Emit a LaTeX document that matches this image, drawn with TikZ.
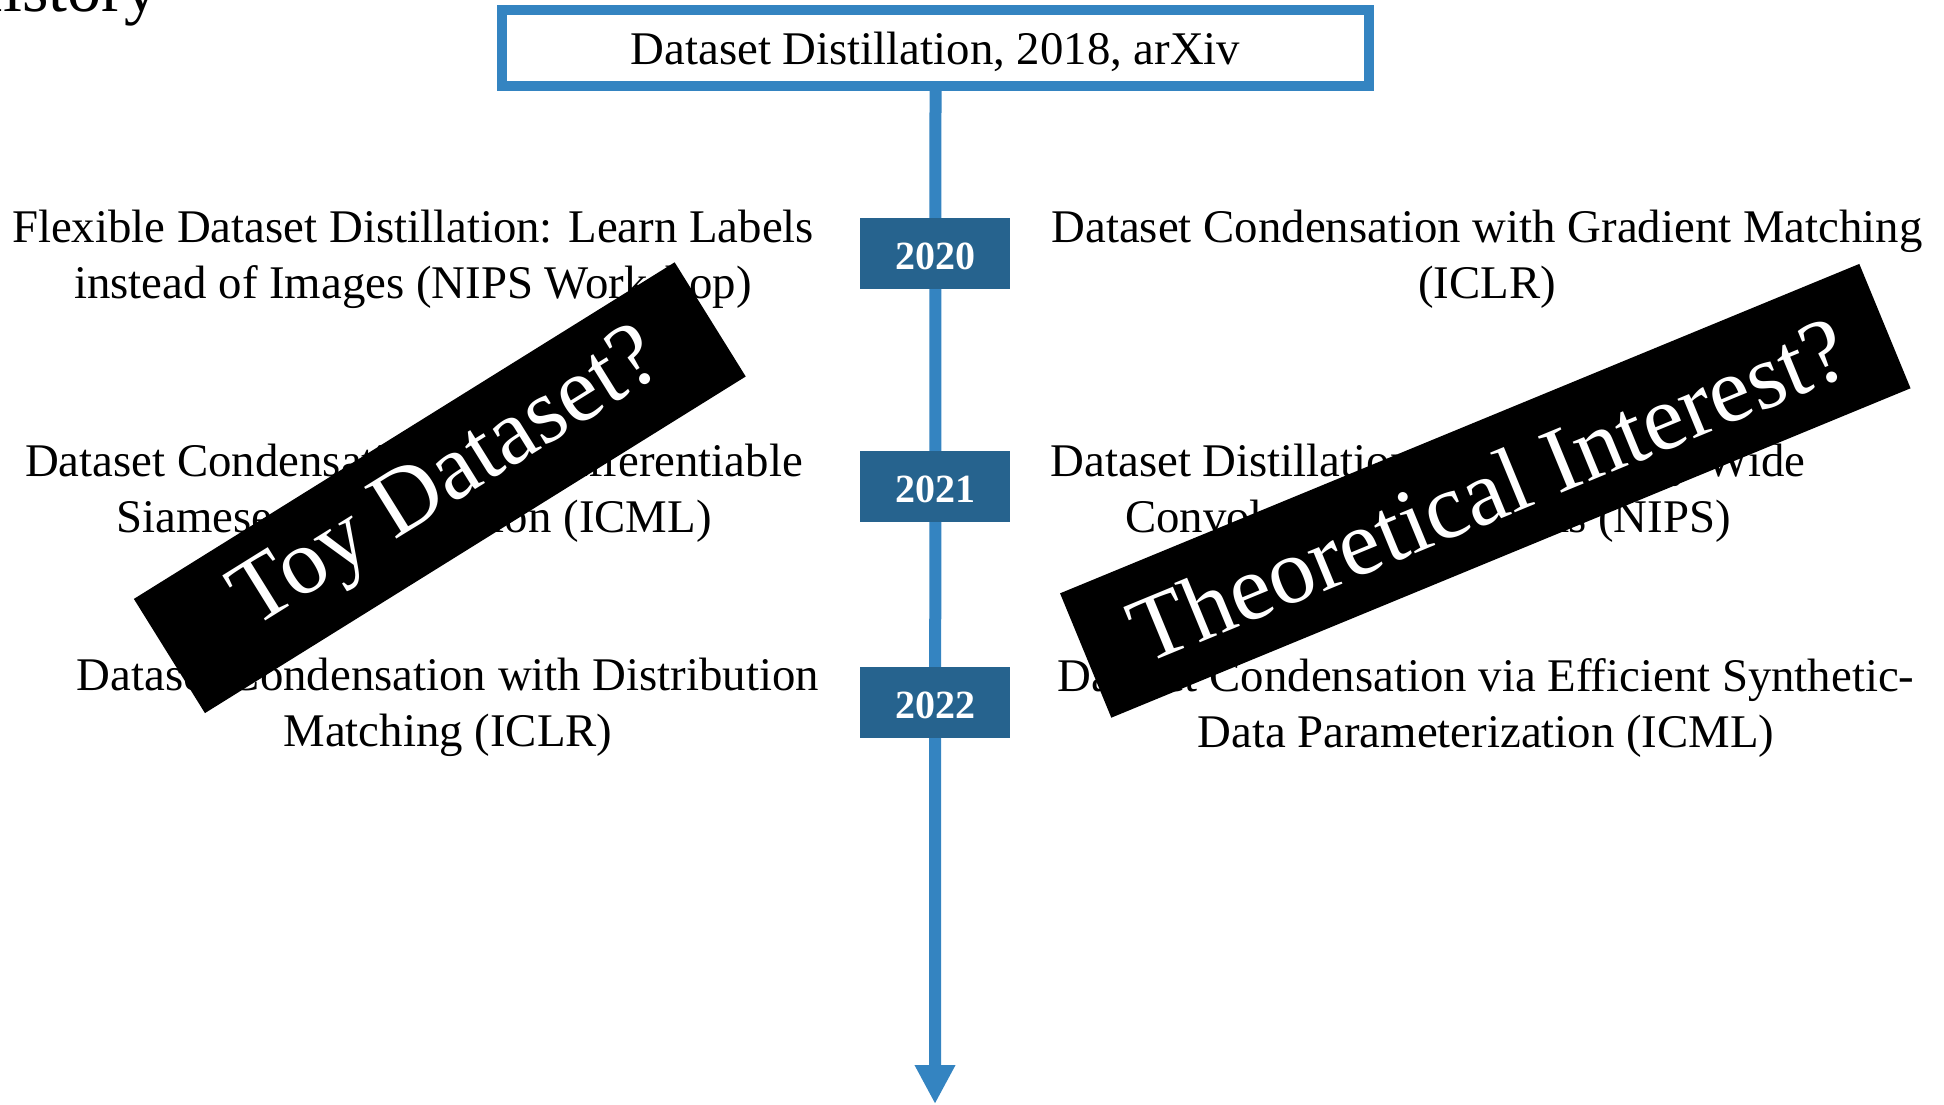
\documentclass[tikz,border=0pt]{standalone}
\usepackage{fontspec}
\setmainfont{Liberation Serif}
\usetikzlibrary{arrows.meta}
\definecolor{axisblue}{RGB}{52,132,193}
\definecolor{yearblue}{RGB}{38,99,142}
\tikzset{
  txt/.style={font=\fontsize{46.8}{56}\selectfont, align=center, inner sep=0pt, anchor=base},
  yearbox/.style={fill=yearblue, text=white, font=\bfseries\fontsize{40}{48}\selectfont,
    minimum width=150pt, minimum height=71pt, inner sep=0pt, text height=32pt, text depth=0pt},
  banner/.style={fill=black, text=white, font=\fontsize{93}{98}\selectfont,
    minimum height=134.5pt, inner sep=0pt},
  axisline/.style={draw=axisblue, line width=12pt, -{Triangle[width=38pt,length=39pt]}},
  topbox/.style={draw=axisblue, line width=10pt, minimum width=867pt, minimum height=76pt, inner sep=0pt,
    font=\fontsize{46.8}{56}\selectfont, text height=34pt, text depth=0pt, fill=white}
}
\begin{document}
\begin{tikzpicture}[x=1pt,y=-1pt]
\path[use as bounding box] (0,0) rectangle (1944,1105);
\clip (0,0) rectangle (1944,1105);
\fill[white] (0,0) rectangle (1944,1105);
% title fragment
\node[anchor=base west, font=\fontsize{68}{74}\selectfont, inner sep=0pt] (hist) at (-46,12) {History};
% top box and axis
\node[topbox] (top) at (935.5,48) {Dataset Distillation, 2018, arXiv};
\coordinate (axisend) at (935,1104);
\path[axisline] (top.south) -- (axisend);
% year boxes
\node[yearbox] (y2020) at (935,253.8) {2020};
\node[yearbox] (y2021) at (935,486.7) {2021};
\node[yearbox] (y2022) at (935,702.5) {2022};
% papers (anchor base = baseline of the last line)
\node[txt] (p1l) at (413,298) {Flexible Dataset Distillation: Learn Labels\\instead of Images (NIPS Workshop)};
\node[txt] (p1r) at (1487,298) {Dataset Condensation with Gradient Matching\\(ICLR)};
\node[txt] (p2l) at (414,532) {Dataset Condensation with Differentiable\\Siamese Augmentation (ICML)};
\node[txt] (p2r) at (1428,532) {Dataset Distillation with Infinitely Wide\\Convolutional Networks (NIPS)};
\node[txt] (p3l) at (448,746) {Dataset Condensation with Distribution\\Matching (ICLR)};
\node[txt] (p3r) at (1486,747) {Dataset Condensation via Efficient Synthetic-\\Data Parameterization (ICML)};
% banners
\node[banner, minimum width=637pt, rotate=31.9] (toy) at (439.8,487.7) {\hspace*{22pt}Toy Dataset?};
\node[banner, minimum width=864.5pt, rotate=22.4] (theo) at (1485.3,490.8) {\hspace*{6pt}Theoretical Interest?};
\end{tikzpicture}
\end{document}
